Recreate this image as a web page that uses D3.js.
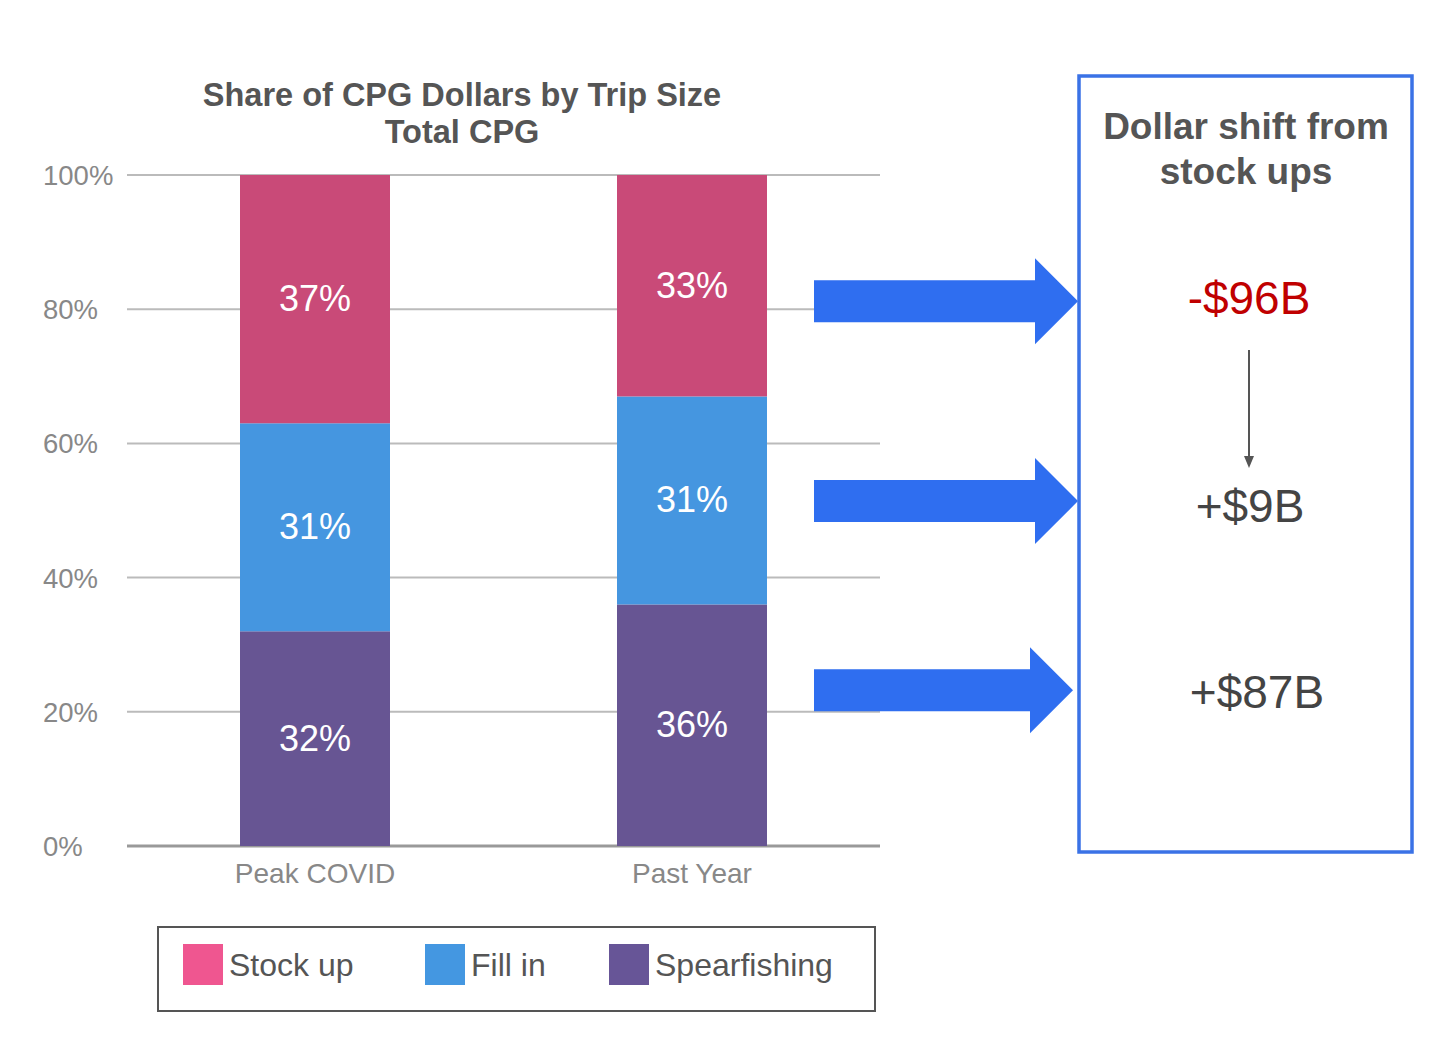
<!DOCTYPE html>
<html>
<head>
<meta charset="utf-8">
<script src="https://cdnjs.cloudflare.com/ajax/libs/d3/7.8.5/d3.min.js"></script>
<style>
  body { margin: 0; background: #fff; }
  svg { display: block; font-family: "Liberation Sans", Arial, sans-serif; }
</style>
</head>
<body>
<svg id="chart" width="1440" height="1043"></svg>
<script>
// data
var periods = ["Peak COVID", "Past Year"];
var segments = ["Spearfishing", "Fill in", "Stock up"];
var stockUp = [37, 33];
var fillIn = [31, 31];
var spearfishing = [32, 36];
var yTicks = [0, 20, 40, 60, 80, 100];
var legendNames = ["Stock up", "Fill in", "Spearfishing"];
var shiftLabels = ["-$96B", "+$9B", "+$87B"];
var arrowLevels = [81.2, 51.4, 23.2];

var barColors = { "Stock up": "#c94a78", "Fill in": "#4596e0", "Spearfishing": "#675593" };
var swatchColors = { "Stock up": "#ef5690", "Fill in": "#4497e1", "Spearfishing": "#675597" };

var svg = d3.select("#chart");

var y = d3.scaleLinear().domain([0, 100]).range([846, 175]);
var x = d3.scalePoint().domain(periods).range([315, 692]);
var barW = 150;

// title
svg.append("text").attr("x", 462).attr("y", 106).attr("text-anchor", "middle")
  .attr("font-size", 32.5).attr("font-weight", "bold").attr("fill", "#555")
  .text("Share of CPG Dollars by Trip Size");
svg.append("text").attr("x", 462).attr("y", 143).attr("text-anchor", "middle")
  .attr("font-size", 32.5).attr("font-weight", "bold").attr("fill", "#555")
  .text("Total CPG");

// gridlines
svg.append("g").selectAll("line").data(yTicks).enter().append("line")
  .attr("x1", 127).attr("x2", 880)
  .attr("y1", function(d) { return y(d); }).attr("y2", function(d) { return y(d); })
  .attr("stroke", function(d) { return d === 0 ? "#999" : "#bbb"; })
  .attr("stroke-width", function(d) { return d === 0 ? 3 : 2; });

svg.append("g").selectAll("text").data(yTicks).enter().append("text")
  .attr("x", 43).attr("y", function(d) { return y(d) + 10; })
  .attr("font-size", 27.5).attr("fill", "#888")
  .text(function(d) { return d + "%"; });

// stacked bars
var rows = periods.map(function(p, i) {
  return { period: p, "Spearfishing": spearfishing[i], "Fill in": fillIn[i], "Stock up": stockUp[i] };
});
var stack = d3.stack().keys(segments)(rows);

var layers = svg.append("g").selectAll("g").data(stack).enter().append("g")
  .attr("fill", function(d) { return barColors[d.key]; });

layers.selectAll("rect").data(function(d) { return d; }).enter().append("rect")
  .attr("x", function(d) { return x(d.data.period) - barW / 2; })
  .attr("width", barW)
  .attr("y", function(d) { return y(d[1]); })
  .attr("height", function(d) { return y(d[0]) - y(d[1]); });

layers.selectAll("text").data(function(d) { return d; }).enter().append("text")
  .attr("x", function(d) { return x(d.data.period); })
  .attr("y", function(d) { return (y(d[0]) + y(d[1])) / 2 + 12; })
  .attr("text-anchor", "middle").attr("font-size", 36).attr("fill", "#fff")
  .text(function(d) { return (d[1] - d[0]) + "%"; });

// x labels
svg.append("g").selectAll("text").data(periods).enter().append("text")
  .attr("x", function(d) { return x(d); })
  .attr("y", 883).attr("text-anchor", "middle")
  .attr("font-size", 28).attr("fill", "#888")
  .text(function(d) { return d; });

// legend
svg.append("rect").attr("x", 158).attr("y", 927).attr("width", 717).attr("height", 84)
  .attr("fill", "none").attr("stroke", "#555").attr("stroke-width", 2);
var legendX = [183, 425, 609];
var lg = svg.append("g").selectAll("g").data(legendNames).enter().append("g")
  .attr("transform", function(d, i) { return "translate(" + legendX[i] + ",944)"; });
lg.append("rect").attr("width", 40).attr("height", 41)
  .attr("fill", function(d) { return swatchColors[d]; });
lg.append("text").attr("x", 46).attr("y", 32)
  .attr("font-size", 32).attr("fill", "#555")
  .text(function(d) { return d; });

// big arrows
svg.append("g").selectAll("path").data(arrowLevels).enter().append("path")
  .attr("fill", "#2f6ef0")
  .attr("d", function(d, i) {
    var cy = y(d), tip = i === 2 ? 1073 : 1078, neck = tip - 43;
    return "M814," + (cy - 21) + "H" + neck + "V" + (cy - 43) + "L" + tip + "," + cy +
      "L" + neck + "," + (cy + 43) + "V" + (cy + 21) + "H814Z";
  });

// right box
svg.append("rect").attr("x", 1079).attr("y", 76).attr("width", 333).attr("height", 776)
  .attr("fill", "none").attr("stroke", "#3a72e6").attr("stroke-width", 3.5);
svg.append("text").attr("x", 1246).attr("y", 139).attr("text-anchor", "middle")
  .attr("font-size", 37).attr("font-weight", "bold").attr("fill", "#555")
  .text("Dollar shift from");
svg.append("text").attr("x", 1246).attr("y", 184).attr("text-anchor", "middle")
  .attr("font-size", 37).attr("font-weight", "bold").attr("fill", "#555")
  .text("stock ups");

var shiftY = [314, 522, 708];
var shiftX = [1249, 1250, 1257];
svg.append("g").selectAll("text").data(shiftLabels).enter().append("text")
  .attr("x", function(d, i) { return shiftX[i]; })
  .attr("y", function(d, i) { return shiftY[i]; })
  .attr("text-anchor", "middle").attr("font-size", 46)
  .attr("fill", function(d, i) { return i === 0 ? "#c00000" : "#444"; })
  .text(function(d) { return d; });

// small arrow
svg.append("line").attr("x1", 1249).attr("x2", 1249).attr("y1", 350).attr("y2", 458)
  .attr("stroke", "#555").attr("stroke-width", 2);
svg.append("path").attr("d", "M1244,456L1254,456L1249,468Z").attr("fill", "#555");
</script>
</body>
</html>
